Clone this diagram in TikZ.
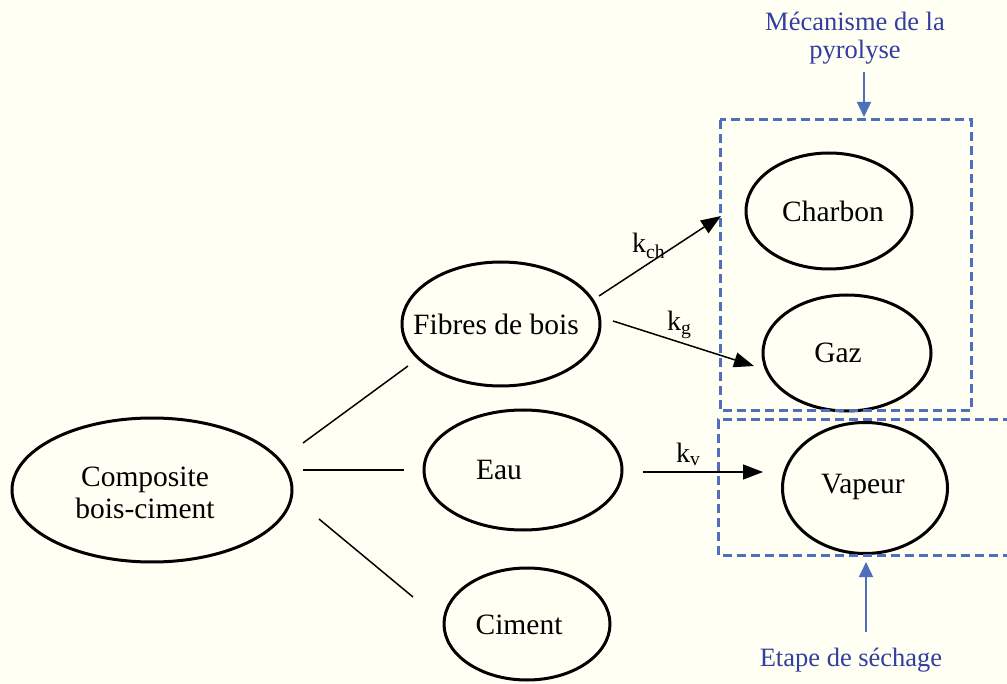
\documentclass[tikz,border=0pt]{standalone}
\usepackage{fontspec}
\setmainfont{Liberation Serif}
\usetikzlibrary{arrows.meta,shapes.geometric}
\definecolor{bgc}{RGB}{255,255,244}
\definecolor{dashblue}{RGB}{80,110,190}
\definecolor{txtblue}{RGB}{50,62,160}
\tikzset{
  ell/.style={draw=black, line width=3pt, ellipse, inner sep=0pt},
  lbl/.style={font=\fontsize{29.5}{33}\selectfont, inner sep=0pt, align=center},
  klbl/.style={font=\fontsize{28}{30}\selectfont, inner sep=0pt, anchor=base west},
  blbl/.style={font=\fontsize{26.5}{31}\selectfont, text=txtblue, inner sep=0pt, align=center},
  link/.style={line width=1.5pt},
  rate/.style={line width=1.5pt, -{Triangle[length=20pt,width=15pt]}},
  dbox/.style={draw=dashblue, line width=3pt, dash pattern=on 9pt off 5pt},
  barrow/.style={draw=dashblue, line width=1.5pt, -{Triangle[length=15pt,width=14pt]}}
}
\begin{document}
\begin{tikzpicture}[x=1pt,y=-1pt]
\fill[bgc] (0,0) rectangle (1007,684);
\useasboundingbox (0,0) rectangle (1007,684);
% ellipses
\node[ell, minimum width=280pt, minimum height=144pt] (comp) at (152,490) {};
\node[ell, minimum width=198pt, minimum height=124pt] (fib) at (501,324) {};
\node[ell, minimum width=198pt, minimum height=120pt] (eau) at (523,470) {};
\node[ell, minimum width=166pt, minimum height=112pt] (cim) at (527,624) {};
\node[ell, minimum width=166pt, minimum height=116pt] (charb) at (829,211) {};
\node[ell, minimum width=168pt, minimum height=116pt] (gaz) at (847,353) {};
\node[ell, minimum width=165pt, minimum height=131pt] (vap) at (865,488) {};
% texts
\node[lbl] (tcomp) at (145,493) {Composite\\[-1pt]bois-ciment};
\node[lbl] (tfib) at (496,324) {Fibres de bois};
\node[lbl] (teau) at (499,470) {Eau};
\node[lbl] (tcim) at (519,625) {Ciment};
\node[lbl] (tcharb) at (833,211) {Charbon};
\node[lbl] (tgaz) at (838,353) {Gaz};
\node[lbl] (tvap) at (863,487) {Vapeur};
% plain links
\coordinate (l1a) at (303,443); \coordinate (l1b) at (408,366);
\coordinate (l2a) at (303,470); \coordinate (l2b) at (404,470);
\coordinate (l3a) at (319,519); \coordinate (l3b) at (413,597);
\draw[link] (l1a) -- (l1b);
\draw[link] (l2a) -- (l2b);
\draw[link] (l3a) -- (l3b);
% rate arrows
\coordinate (ka) at (599,296); \coordinate (kb) at (721,216);
\coordinate (ga) at (613,321); \coordinate (gb) at (754,366);
\coordinate (va) at (643,472); \coordinate (vb) at (763,472);
\draw[rate] (ka) -- (kb);
\draw[rate] (ga) -- (gb);
\draw[rate] (va) -- (vb);
\node[klbl] (kch) at (632,253) {k\textsubscript{ch}};
\node[klbl] (kg) at (667,331) {k\textsubscript{g}};
\node[klbl] (kv) at (676,462) {k\textsubscript{v}};
% dashed boxes
\draw[dbox] (720,120) rectangle (971,411);
\draw[dbox] (1012,420) -- (718,420) -- (718,555) -- (1012,555);
% blue labels
\node[blbl] (pyro) at (855,38) {Mécanisme de la\\[-3pt]pyrolyse};
\node[blbl] (sech) at (851,660) {Etape de séchage};
\coordinate (pa) at (864,72); \coordinate (pb) at (864,117);
\coordinate (sa) at (866,632); \coordinate (sb) at (866,562);
\draw[barrow] (pa) -- (pb);
\draw[barrow] (sa) -- (sb);
\end{tikzpicture}
\end{document}
